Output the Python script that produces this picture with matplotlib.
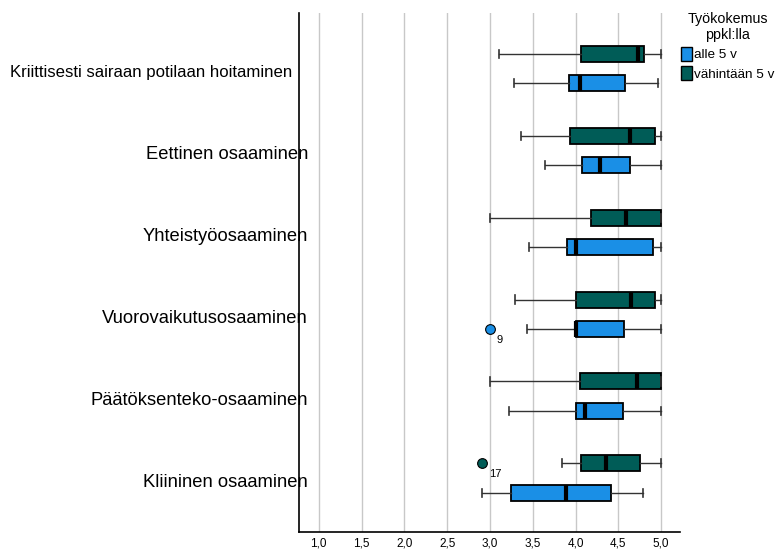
import matplotlib
matplotlib.use("Agg")
import matplotlib.pyplot as plt
from matplotlib.patches import Patch
from matplotlib.transforms import blended_transform_factory

plt.rcParams["font.family"] = ["Liberation Sans", "DejaVu Sans"]

categories = [
    "Kriittisesti sairaan potilaan hoitaminen",
    "Eettinen osaaminen",
    "Yhteistyöosaaminen",
    "Vuorovaikutusosaaminen",
    "Päätöksenteko-osaaminen",
    "Kliininen osaaminen",
]
groups = ["alle 5 v", "vähintään 5 v"]
colors = {"alle 5 v": "#1a8fe6", "vähintään 5 v": "#005c57"}

# five-number summaries per category: (whisker low, q1, median, q3, whisker high)
short_exp = [
    (3.28, 3.92, 4.05, 4.58, 4.96),
    (3.64, 4.07, 4.28, 4.64, 5.00),
    (3.46, 3.90, 4.00, 4.91, 5.00),
    (3.43, 4.00, 4.00, 4.57, 5.00),
    (3.22, 4.00, 4.11, 4.55, 5.00),
    (2.91, 3.24, 3.89, 4.41, 4.79),
]
long_exp = [
    (3.11, 4.06, 4.73, 4.80, 5.00),
    (3.36, 3.93, 4.64, 4.93, 5.00),
    (3.00, 4.18, 4.59, 5.00, 5.00),
    (3.29, 4.00, 4.645, 4.93, 5.00),
    (3.00, 4.05, 4.72, 5.00, 5.00),
    (3.84, 4.06, 4.35, 4.75, 5.00),
]
# outliers: (category index, group, value, case number)
outliers = [
    (3, "alle 5 v", 3.0, "9"),
    (5, "vähintään 5 v", 2.91, "17"),
]

xticks = [1.0, 1.5, 2.0, 2.5, 3.0, 3.5, 4.0, 4.5, 5.0]
xtick_labels = ["1,0", "1,5", "2,0", "2,5", "3,0", "3,5", "4,0", "4,5", "5,0"]

fig = plt.figure(figsize=(7.76, 5.51), dpi=100)
ax = fig.add_axes([0.3857, 0.0345, 0.4906, 0.9419])

offsets = {"alle 5 v": 0.18, "vähintään 5 v": -0.18}
series = {"alle 5 v": short_exp, "vähintään 5 v": long_exp}

for g in groups:
    stats = []
    for i, (lo, q1, med, q3, hi) in enumerate(series[g]):
        fl = [o[2] for o in outliers if o[0] == i and o[1] == g]
        stats.append(dict(whislo=lo, q1=q1, med=med, q3=q3, whishi=hi, fliers=fl))
    pos = [i + offsets[g] for i in range(len(categories))]
    ax.bxp(
        stats,
        positions=pos,
        vert=False,
        widths=0.195,
        capwidths=0.1,
        patch_artist=True,
        boxprops=dict(facecolor=colors[g], edgecolor="black", linewidth=1.3),
        medianprops=dict(color="black", linewidth=3, solid_capstyle="butt"),
        whiskerprops=dict(color="#333333", linewidth=1),
        capprops=dict(color="#333333", linewidth=1.2),
        flierprops=dict(marker="o", markerfacecolor=colors[g],
                        markeredgecolor="black", markersize=7, markeredgewidth=0.8),
        manage_ticks=False,
        zorder=3,
    )

for i, g, val, case in outliers:
    ax.annotate(case, (val, i + offsets[g]), xytext=(5, -4),
                textcoords="offset points", ha="left", va="top", fontsize=8)

ax.set_xlim(0.773, 5.22)
ax.set_ylim(5.658, -0.679)
ax.set_xticks(xticks)
ax.set_xticklabels(xtick_labels, fontsize=8.5)
ax.tick_params(axis="x", length=0, pad=4)
ax.set_yticks([])
ax.xaxis.grid(True, color="#c8c8c8", linewidth=1)
ax.set_axisbelow(True)
for side in ("top", "right"):
    ax.spines[side].set_visible(False)
for side in ("left", "bottom"):
    ax.spines[side].set_linewidth(1.2)

# category labels end just past the axis line; the long first one starts at the left edge
trans = blended_transform_factory(ax.transAxes, ax.transData)
left_trans = blended_transform_factory(fig.transFigure, ax.transData)
for i, name in enumerate(categories):
    if i == 0:
        ax.text(10 / 776, i + 0.05, name, transform=left_trans, ha="left",
                va="center", fontsize=12.1, clip_on=False)
    else:
        ax.text(0.0229, i + 0.05, name, transform=trans, ha="right",
                va="center", fontsize=13.2, clip_on=False)

handles = [Patch(facecolor=colors[g], edgecolor="black", linewidth=1) for g in groups]
leg = fig.legend(
    handles, groups, title="Työkokemus\nppkl:lla",
    loc="upper left", bbox_to_anchor=(681 / 776, 0.978),
    frameon=False, fontsize=9.7, title_fontsize=10.3,
    handlelength=0.8, handleheight=1.2, handletextpad=0.15,
    labelspacing=0.35, borderpad=0.0, borderaxespad=0.0,
)
leg.get_title().set_multialignment("center")

fig.savefig("out.png", dpi=100)
